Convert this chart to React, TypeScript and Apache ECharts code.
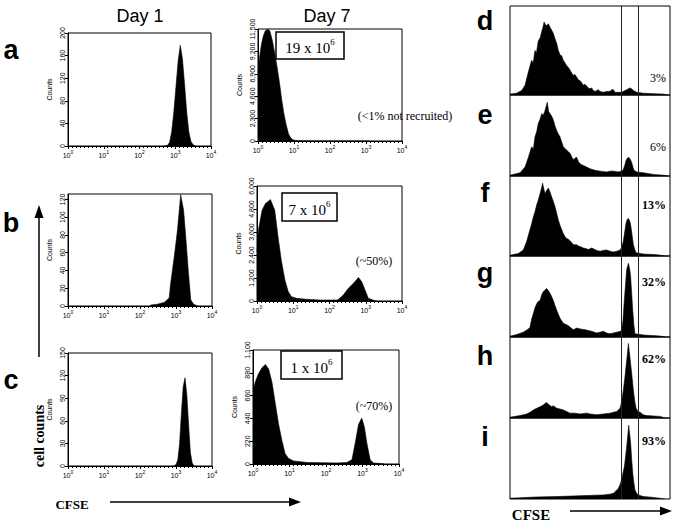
import React, { useEffect, useRef } from 'react';
import * as echarts from 'echarts';

const SANS = '"Liberation Sans", Arial, sans-serif';
const SERIF = '"Liberation Serif", "Times New Roman", serif';

// ---------- data: [log10(CFSE), counts] ----------
const decadeExponents = [0, 1, 2, 3, 4];

const aDay1: number[][] = [[2.70,0],[2.78,1],[2.84,6],[2.90,25],[2.96,60],[3.02,105],[3.08,150],[3.14,178],[3.20,155],[3.26,110],[3.32,60],[3.38,25],[3.44,8],[3.50,2],[3.56,0]];
const bDay1: number[][] = [[2.29,1],[2.48,2],[2.67,4],[2.81,9],[2.85,25],[2.95,55],[3.04,85],[3.13,125],[3.21,108],[3.27,78],[3.34,40],[3.41,7],[3.49,2],[3.60,0]];
const cDay1: number[][] = [[2.95,0],[3.00,2],[3.05,8],[3.10,30],[3.15,70],[3.20,105],[3.25,117],[3.30,95],[3.35,55],[3.40,18],[3.45,4],[3.50,0]];

const aDay7: number[][] = [[0,7000],[0.05,8800],[0.10,10000],[0.15,10800],[0.20,11300],[0.27,11500],[0.33,11300],[0.40,10300],[0.47,8900],[0.53,7600],[0.60,5900],[0.66,4200],[0.72,2800],[0.78,1700],[0.85,700],[0.92,250],[1.00,80],[1.10,30],[1.50,10],[2.00,5],[3.00,5],[3.10,0]];
const bDay7: number[][] = [[0,2570],[0.04,3700],[0.14,4730],[0.23,5080],[0.37,5290],[0.49,4730],[0.58,3350],[0.67,2130],[0.77,1090],[0.86,490],[0.95,225],[1.09,140],[1.36,90],[1.74,50],[2.20,50],[2.24,80],[2.38,310],[2.52,660],[2.66,920],[2.80,1230],[2.89,1000],[2.98,570],[3.07,140],[3.21,40],[3.30,0]];
const cDay7: number[][] = [[0,700],[0.06,790],[0.15,870],[0.25,930],[0.34,960],[0.43,915],[0.52,790],[0.61,585],[0.70,385],[0.79,230],[0.88,100],[0.97,55],[1.11,30],[1.48,15],[2.30,10],[2.57,15],[2.71,40],[2.80,200],[2.89,380],[2.98,443],[3.05,360],[3.12,200],[3.21,40],[3.30,10],[3.50,5],[3.60,0]];

const yMaxDay1 = [200, 126, 150];
const yStepDay1 = [40, 20, 30];
const yMaxDay7 = [11500, 6000, 1100];
const yStepDay7 = [2300, 1200, 220];

const cellNumbers = ['19', '7', '1'];
const recruitNotes = ['(<1% not recruited)', '(~50%)', '(~70%)'];

// ---------- right panels: [CFSE channel %, height % of panel] ----------
const dHist: number[][] = [[0,1],[4,2],[7.3,5],[9.4,11],[11.5,26],[13.5,39],[14.5,36],[15.6,50],[16.5,47],[17.7,61],[18.8,64],[19.8,71],[20.6,76],[21.3,82],[22.1,79],[22.9,78],[24,80],[25,76],[26,73],[27.1,69],[28.2,63],[29.2,58],[30.2,50],[31.3,45],[32.3,44],[33.3,39],[34.4,36],[35.4,33],[36.5,31],[37.5,28],[38.5,25],[39.6,22],[40.6,23],[41.7,20],[42.7,17],[43.8,16],[44.8,14],[45.8,11],[46.9,12],[47.9,10],[49,8],[50,7],[51,8],[52.1,5],[53.1,4],[55.2,6],[56.3,4],[58.3,3],[60.4,4],[62.5,4],[63.5,6],[64.6,6],[65.6,3],[66.7,3],[69.8,3],[71.9,5],[72.9,6],[75,8],[76,7],[77.1,5],[79.2,3],[83.3,2],[89.6,1.5],[95.8,1],[98,0]];
const eHist: number[][] = [[0,1],[6.3,4],[9.4,11],[11.5,23],[13.5,36],[14.6,33],[15.6,48],[16.7,55],[17.7,65],[18.8,70],[19.8,77],[20.8,75],[21.9,81],[22.6,86],[23.3,91],[24.1,80],[25,77],[26,74],[27.1,69],[28.1,62],[29.2,56],[30.2,52],[31.3,48],[32.3,42],[33.3,36],[34.4,34],[35.4,32],[36.5,30],[37.5,28],[38.5,24],[39.6,20],[40.6,22],[41.7,23],[42.7,18],[43.8,15],[44.8,14],[45.8,13],[47.9,11],[50,9],[53.1,7],[56.3,6],[60.4,5],[62.5,6],[64.6,6],[67.7,5],[69.8,6],[70.8,8],[71.7,13],[72.5,19],[73.3,22],[74.2,23],[75,21],[76,17],[76.8,11],[77.5,7],[79.2,5],[83.3,4],[89.6,2],[95.8,1],[98,0]];
const fHist: number[][] = [[0,1],[5.2,3],[8.3,7.5],[10.4,18],[12.5,33],[13.5,40],[14.6,49],[15.6,55],[16.7,64],[17.7,70],[18.8,78],[19.6,84],[20.4,91],[21.1,84],[21.9,78],[22.9,82],[24,85],[25,80],[26,74],[27.1,68],[28.1,62],[29.2,53],[30.2,45],[31.3,38],[32.3,33],[33.3,28],[34.4,24],[35.4,22],[36.5,21],[37.5,19],[38.5,17],[39.6,14],[41.7,14],[42.7,12.5],[44.8,11],[45.8,10],[47.9,9],[49,8],[51,10],[52.1,9],[54.2,7],[56.3,6],[58.3,7],[60.4,7.5],[62.5,6],[64.6,5],[66.7,6],[68.8,7.5],[69.8,11],[70.8,18],[71.7,30],[72.5,41],[73.3,46],[74,47],[74.8,44],[75.4,39],[76.3,26],[77.1,14],[78,8],[78.8,4],[83.3,2.5],[91.7,1.7],[97,0]];
const gHist: number[][] = [[0,1],[4.2,3],[8.3,6],[11.5,10],[12.5,12],[13.5,22],[14.6,29],[15.6,36],[16.7,41],[17.7,44],[18.8,45],[19.8,52],[20.8,56],[21.9,58],[22.9,60],[24,57],[25,54],[26,50],[27.1,45],[28.1,39],[29.2,33],[30.2,28],[31.3,23],[32.3,20],[33.3,17],[34.4,16],[36.5,14],[37.5,12],[39.6,9],[41.7,11],[43.8,10],[46.9,9],[49,8],[51,7],[54.2,5],[56.3,6],[58.3,7],[60.4,5],[62.5,4],[64.6,5],[66.7,6],[68.8,7],[69.8,8],[70.6,20],[71.3,41],[72.1,62],[72.9,83],[74,91],[74.8,84],[75.4,74],[76,55],[76.7,33],[77.4,15],[78.1,4],[83.3,2.5],[93.8,1.2],[97,0]];
const hHist: number[][] = [[0,1],[6.3,3],[10.4,5],[12.5,7],[14.6,10],[16.7,12],[18.8,14],[20.8,16],[21.9,18],[22.9,19],[24,17],[26,14],[27.1,15],[29.2,12],[31.3,11],[33.3,10],[35.4,8],[37.5,6],[40.6,6],[43.8,5],[47.9,6],[50,5],[54.2,4],[58.3,5],[62.5,6],[64.6,7],[66.7,8],[68.8,12],[69.8,20],[70.8,34],[71.7,48],[72.5,63],[73.3,78],[74,92],[74.7,80],[75.4,67],[76.3,50],[77.1,34],[78,20],[78.8,12],[80,8],[81.3,7],[83.3,4],[85.4,3],[93.8,2],[97,0]];
const iHist: number[][] = [[0,1],[16.7,2.5],[29.2,3],[43.8,4],[58.3,5],[62.5,6],[64.6,7],[66.2,10],[67.7,13],[68.8,18],[69.8,24],[70.6,32],[71.5,40],[72.2,52],[72.9,64],[73.6,78],[74.2,91],[74.8,80],[75.4,69],[76,50],[76.7,32],[77.4,20],[78.1,11],[79.2,7],[80.2,5],[83.3,3],[89.6,2],[97,0]];

const gateLines = [69.4, 80];
const rightLetters = ['d', 'e', 'f', 'g', 'h', 'i'];
const rightPercents = ['3%', '6%', '13%', '32%', '62%', '93%'];

// ---------- layout (px) ----------
const leftGrids = [
  { left: 68, top: 33, width: 143, height: 113 },
  { left: 68, top: 194, width: 144, height: 112 },
  { left: 68, top: 353, width: 144, height: 113 },
];
const midGrids = [
  { left: 258, top: 29, width: 144, height: 112 },
  { left: 257, top: 186, width: 145, height: 115 },
  { left: 253, top: 350, width: 146, height: 114 },
];
const rightTops = [6, 95, 176, 256, 337, 418, 499];
const noteBoxes = [
  { x: 276, y: 32, w: 68, h: 27 },
  { x: 282, y: 193, w: 55, h: 28 },
  { x: 281, y: 351, w: 61, h: 28 },
];
const notePos = [
  { x: 405, y: 116 },
  { x: 374, y: 261 },
  { x: 374, y: 406 },
];
const leftLetterPos = [
  { t: 'a', y: 50 },
  { t: 'b', y: 223 },
  { t: 'c', y: 380 },
];
const rightLetterY = [21, 115, 193, 273, 356, 437];
const rightPctY = [78, 147, 205, 282, 359, 441];

const supRich = {
  b: { fontSize: 7, fontFamily: SANS, color: '#000', verticalAlign: 'bottom', lineHeight: 10 },
  s: { fontSize: 5, fontFamily: SANS, color: '#000', verticalAlign: 'top', lineHeight: 10 },
};

function App() {
  const ref = useRef<HTMLDivElement>(null);
  useEffect(() => {
    if (!ref.current) return;
    const chart = echarts.init(ref.current, null, { renderer: 'svg' });

    const grids: any[] = [];
    const xAxes: any[] = [];
    const yAxes: any[] = [];
    const series: any[] = [];

    const histPanels = [
      { g: leftGrids[0], d: aDay1, max: yMaxDay1[0], step: yStepDay1[0] },
      { g: leftGrids[1], d: bDay1, max: yMaxDay1[1], step: yStepDay1[1] },
      { g: leftGrids[2], d: cDay1, max: yMaxDay1[2], step: yStepDay1[2] },
      { g: midGrids[0], d: aDay7, max: yMaxDay7[0], step: yStepDay7[0] },
      { g: midGrids[1], d: bDay7, max: yMaxDay7[1], step: yStepDay7[1] },
      { g: midGrids[2], d: cDay7, max: yMaxDay7[2], step: yStepDay7[2] },
    ];

    histPanels.forEach((p, i) => {
      grids.push({ ...p.g, show: true, borderColor: '#000', borderWidth: 1, backgroundColor: 'transparent' });
      xAxes.push({
        gridIndex: i, type: 'value', min: decadeExponents[0], max: decadeExponents[decadeExponents.length - 1], interval: 1,
        axisLine: { lineStyle: { color: '#000', width: 1 } },
        axisTick: { length: 3, lineStyle: { color: '#000' } },
        minorTick: { show: true, splitNumber: 9, length: 2, lineStyle: { color: '#000' } },
        splitLine: { show: false },
        axisLabel: { margin: 3, formatter: (v: number) => `{b|10}{s|${v}}`, rich: supRich },
      });
      yAxes.push({
        gridIndex: i, type: 'value', min: 0, max: p.max, interval: p.step,
        name: 'Counts', nameLocation: 'middle', nameGap: 15,
        nameTextStyle: { fontSize: 7, fontFamily: SANS, color: '#000' },
        axisLine: { show: true, lineStyle: { color: '#000', width: 1 } },
        axisTick: { show: true, length: 3, lineStyle: { color: '#000' } },
        splitLine: { show: false },
        axisLabel: { rotate: 90, fontSize: 7, fontFamily: SANS, color: '#000', margin: 2, showMaxLabel: p.max % p.step === 0 },
      });
      series.push({
        type: 'line', xAxisIndex: i, yAxisIndex: i, data: p.d, symbol: 'none', silent: true,
        lineStyle: { color: '#000', width: 0.6 }, areaStyle: { color: '#000', opacity: 1 },
      });
    });

    const rightData = [dHist, eHist, fHist, gHist, hHist, iHist];
    rightData.forEach((d, k) => {
      const i = 6 + k;
      grids.push({ left: 510, top: rightTops[k], width: 160, height: rightTops[k + 1] - rightTops[k], show: true, borderColor: '#000', borderWidth: 1 });
      xAxes.push({ gridIndex: i, type: 'value', min: 0, max: 100, show: false });
      yAxes.push({ gridIndex: i, type: 'value', min: 0, max: 100, show: false });
      series.push({
        type: 'line', xAxisIndex: i, yAxisIndex: i, data: d, symbol: 'none', silent: true,
        lineStyle: { color: '#000', width: 0.6 }, areaStyle: { color: '#000', opacity: 1 },
        markLine: {
          silent: true, symbol: 'none', label: { show: false },
          lineStyle: { color: '#222', width: 1, type: 'solid' },
          data: gateLines.map((v) => ({ xAxis: v })),
        },
      });
    });

    const graphic: any[] = [];
    graphic.push({ type: 'text', x: 140, y: 16, style: { text: 'Day 1', font: `18px ${SANS}`, fill: '#000', align: 'center', verticalAlign: 'middle' } });
    graphic.push({ type: 'text', x: 327, y: 16, style: { text: 'Day 7', font: `18px ${SANS}`, fill: '#000', align: 'center', verticalAlign: 'middle' } });
    leftLetterPos.forEach((l) => {
      graphic.push({ type: 'text', x: 11, y: l.y, style: { text: l.t, font: `bold 27px ${SANS}`, fill: '#000', align: 'center', verticalAlign: 'middle' } });
    });
    rightLetters.forEach((t, k) => {
      graphic.push({ type: 'text', x: 485, y: rightLetterY[k], style: { text: t, font: `bold 27px ${SANS}`, fill: '#000', align: 'center', verticalAlign: 'middle' } });
      graphic.push({ type: 'text', x: 666, y: rightPctY[k], style: { text: rightPercents[k], font: `${k >= 2 ? 'bold ' : ''}12px ${SERIF}`, fill: '#000', align: 'right', verticalAlign: 'middle' } });
    });
    noteBoxes.forEach((b, k) => {
      graphic.push({ type: 'rect', shape: { x: b.x, y: b.y, width: b.w, height: b.h }, style: { fill: '#fff', stroke: '#000', lineWidth: 1.5 } });
      graphic.push({
        type: 'text', x: b.x + b.w / 2, y: b.y + b.h / 2 + 1,
        style: {
          text: `{n|${cellNumbers[k]} x 10}{s|6}`, align: 'center', verticalAlign: 'middle',
          rich: {
            n: { fontSize: 15, fontFamily: SERIF, fill: '#000', verticalAlign: 'bottom', lineHeight: 18 },
            s: { fontSize: 9, fontFamily: SERIF, fill: '#000', verticalAlign: 'top', lineHeight: 18 },
          },
        },
      });
      graphic.push({ type: 'text', x: notePos[k].x, y: notePos[k].y, style: { text: recruitNotes[k], font: `12px ${SERIF}`, fill: '#000', align: 'center', verticalAlign: 'middle' } });
    });
    // axis annotations
    graphic.push({ type: 'line', shape: { x1: 39, y1: 357, x2: 39, y2: 214 }, style: { stroke: '#000', lineWidth: 1.5 } });
    graphic.push({ type: 'polygon', shape: { points: [[39, 205], [34.5, 218], [43.5, 218]] }, style: { fill: '#000' } });
    graphic.push({ type: 'text', x: 39, y: 436, rotation: Math.PI / 2, style: { text: 'cell counts', font: `bold 14px ${SERIF}`, fill: '#000', align: 'center', verticalAlign: 'middle' } });
    graphic.push({ type: 'text', x: 72, y: 504, style: { text: 'CFSE', font: `bold 13px ${SERIF}`, fill: '#000', align: 'center', verticalAlign: 'middle' } });
    graphic.push({ type: 'line', shape: { x1: 110, y1: 502, x2: 292, y2: 502 }, style: { stroke: '#000', lineWidth: 1.5 } });
    graphic.push({ type: 'polygon', shape: { points: [[301, 502], [289, 497.5], [289, 506.5]] }, style: { fill: '#000' } });
    graphic.push({ type: 'text', x: 531, y: 515, style: { text: 'CFSE', font: `bold 15px ${SERIF}`, fill: '#000', align: 'center', verticalAlign: 'middle' } });
    graphic.push({ type: 'line', shape: { x1: 570, y1: 511, x2: 663, y2: 511 }, style: { stroke: '#000', lineWidth: 1.5 } });
    graphic.push({ type: 'polygon', shape: { points: [[672, 511], [660, 506.5], [660, 515.5]] }, style: { fill: '#000' } });

    chart.setOption({
      animation: false,
      backgroundColor: '#fff',
      textStyle: { fontFamily: SANS },
      grid: grids,
      xAxis: xAxes,
      yAxis: yAxes,
      series,
      graphic,
    });
    return () => chart.dispose();
  }, []);
  return <div ref={ref} style={{ position: 'fixed', left: 0, top: 0, width: 675, height: 523 }} />;
}

export default App;
